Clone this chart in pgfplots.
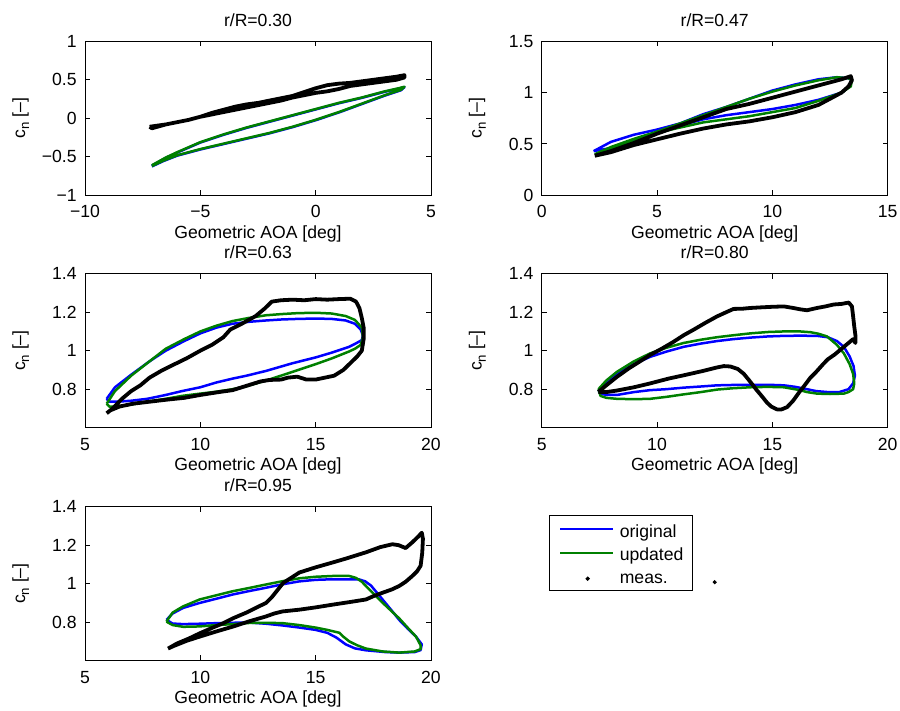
\documentclass[border=0pt]{standalone}
\usepackage{fontspec}
\setmainfont{Liberation Sans}
\usepackage{pgfplots}
\pgfplotsset{compat=1.18}
\definecolor{mblue}{rgb}{0,0,1}
\definecolor{mgreen}{rgb}{0,0.5,0}
\pgfplotsset{
  cstyle/.style={
    scale only axis, width=173pt, height=77pt, anchor=south west,
    axis line style={line width=0.5pt},
    tick align=inside, major tick length=2.6pt,
    every tick/.style={black, line width=0.5pt},
    xtick pos=both, ytick pos=both,
    xticklabel style={inner sep=0pt, anchor=north, yshift=-5pt},
    yticklabel style={inner sep=0pt, anchor=east, xshift=-4pt},
    every axis title shift=0pt,
    title style={at={(axis description cs:0.5,1.097)}, anchor=base, inner sep=0pt},
    xlabel style={at={(axis description cs:0.5,-0.195)}, anchor=north, inner sep=0pt},
    ylabel style={at={(axis description cs:-0.1734,0.5)}, anchor=base, inner sep=0pt},
    xlabel={Geometric AOA [deg]},
    ylabel={c\raisebox{-0.45ex}{\fontsize{6.6}{7}\selectfont n} [–]},
  },
  orig/.style={mblue, line width=1.25pt, line join=round},
  upd/.style={mgreen, line width=1.25pt, line join=round},
  meas/.style={black, line width=1.9pt, line join=round},
  lowstyle/.style={xmin=5, xmax=20, ymin=0.6, ymax=1.4,
    xtick={5,10,15,20}, xticklabels={5,10,15,20},
    ytick={0.8,1,1.2,1.4}, yticklabels={0.8,1,1.2,1.4}},
}
\begin{document}
\fontsize{8.8}{10.5}\selectfont
\begin{tikzpicture}
\useasboundingbox (0,0) rectangle (450pt,355.5pt);

% ---------- r/R = 0.30 ----------
\begin{axis}[cstyle, at={(42.5pt,257.85pt)}, title={r/R=0.30},
  xmin=-10, xmax=5, ymin=-1, ymax=1,
  xtick={-10,-5,0,5}, xticklabels={−10,−5,0,5},
  ytick={-1,-0.5,0,0.5,1}, yticklabels={−1,−0.5,0,0.5,1}]
\addplot[orig] coordinates {(-7.1,-0.615) (-6.8,-0.565) (-6.5,-0.515) (-6,-0.445) (-5,-0.315) (-4,-0.215) (-3,-0.125) (-2,-0.045) (-1,0.035) (0,0.115) (1,0.195) (2,0.265) (3,0.345) (3.6,0.385) (3.85,0.405) (3.7,0.365) (3,0.295) (2,0.185) (1,0.075) (0,-0.025) (-1,-0.115) (-2,-0.195) (-3,-0.265) (-4,-0.335) (-5,-0.405) (-6,-0.485) (-6.6,-0.555) (-7.1,-0.625)};
\addplot[upd] coordinates {(-7.1,-0.61) (-6.8,-0.56) (-6.5,-0.51) (-6,-0.44) (-5,-0.31) (-4,-0.21) (-3,-0.12) (-2,-0.04) (-1,0.04) (0,0.12) (1,0.20) (2,0.27) (3,0.35) (3.6,0.39) (3.85,0.41) (3.7,0.37) (3,0.30) (2,0.19) (1,0.08) (0,-0.02) (-1,-0.11) (-2,-0.19) (-3,-0.26) (-4,-0.33) (-5,-0.40) (-6,-0.48) (-6.6,-0.55) (-7.1,-0.62)};
\addplot[meas] coordinates {(-7.2,-0.11) (-6.5,-0.08) (-6,-0.05) (-5.5,-0.02) (-5,0.02) (-4.5,0.07) (-4,0.11) (-3.5,0.15) (-3,0.18) (-2.5,0.20) (-2,0.23) (-1.5,0.26) (-1,0.29) (-0.5,0.34) (0,0.39) (0.5,0.43) (1,0.45) (1.5,0.46) (2,0.48) (2.5,0.50) (3,0.52) (3.5,0.54) (3.85,0.56) (3.85,0.53) (3.5,0.50) (3,0.48) (2.5,0.46) (2,0.44) (1.5,0.42) (1,0.38) (0.5,0.35) (0,0.33) (-0.5,0.30) (-1,0.27) (-1.5,0.23) (-2,0.20) (-2.5,0.17) (-3,0.14) (-3.5,0.11) (-4,0.08) (-4.5,0.05) (-5,0.02) (-5.5,-0.02) (-6,-0.05) (-6.5,-0.08) (-7.1,-0.13) (-7.2,-0.11)};
\end{axis}

% ---------- r/R = 0.47 ----------
\begin{axis}[cstyle, at={(270.85pt,257.85pt)}, title={r/R=0.47},
  xmin=0, xmax=15, ymin=0, ymax=1.5,
  xtick={0,5,10,15}, xticklabels={0,5,10,15},
  ytick={0,0.5,1,1.5}, yticklabels={0,0.5,1,1.5}]
\addplot[orig] coordinates {(2.25,0.43) (3,0.52) (4,0.59) (5,0.64) (6,0.70) (7,0.79) (8,0.86) (9,0.94) (10,1.02) (11,1.08) (12,1.13) (12.8,1.15) (13.3,1.14) (13.45,1.12) (13.3,1.05) (13,1.00) (12,0.93) (11,0.88) (10,0.84) (9,0.81) (8,0.78) (7,0.74) (6,0.68) (5,0.60) (4,0.53) (3,0.46) (2.25,0.43)};
\addplot[upd] coordinates {(2.3,0.40) (3,0.47) (4,0.55) (5,0.62) (6,0.70) (7,0.78) (8,0.86) (9,0.94) (10,1.01) (11,1.07) (12,1.12) (12.8,1.15) (13.3,1.14) (13.45,1.12) (13.4,1.06) (13,1.00) (12,0.92) (11,0.85) (10,0.81) (9,0.77) (8,0.74) (7,0.71) (6,0.66) (5,0.61) (4,0.52) (3,0.45) (2.3,0.40)};
\addplot[meas] coordinates {(2.3,0.385) (3,0.43) (4,0.51) (5,0.60) (6,0.68) (7,0.76) (7.5,0.80) (8,0.84) (9,0.89) (10,0.95) (11,1.01) (12,1.07) (13,1.13) (13.4,1.16) (13.45,1.12) (13.3,1.06) (13,1.00) (12,0.88) (11,0.81) (10,0.76) (9,0.72) (8,0.69) (7,0.65) (6,0.60) (5,0.545) (4,0.49) (3,0.42) (2.3,0.385)};
\end{axis}

% ---------- r/R = 0.63 ----------
\begin{axis}[cstyle, lowstyle, at={(42.5pt,141.65pt)}, title={r/R=0.63}]
\addplot[orig] coordinates {(5.94,0.75) (6.3,0.81) (7.0,0.875) (7.8,0.945) (8.5,1.0) (9.3,1.05) (10.0,1.09) (10.7,1.12) (11.4,1.14) (12.1,1.15) (12.85,1.157) (13.5,1.162) (14.2,1.165) (15.0,1.167) (15.7,1.165) (16.3,1.157) (16.7,1.14) (16.95,1.11) (17.05,1.08) (17.0,1.055) (16.7,1.035) (16.45,1.02) (15.7,0.99) (15.0,0.965) (14.0,0.935) (12.85,0.895) (12.0,0.87) (11.4,0.855) (10.7,0.835) (10.0,0.81) (9.2,0.79) (8.5,0.77) (7.7,0.75) (7.0,0.74) (6.4,0.735) (6.05,0.735) (5.94,0.75)};
\addplot[upd] coordinates {(5.94,0.725) (6.3,0.79) (7.0,0.87) (7.8,0.945) (8.5,1.01) (9.3,1.06) (10.0,1.10) (10.7,1.13) (11.4,1.154) (12.1,1.17) (12.85,1.184) (13.5,1.19) (14.2,1.195) (15.0,1.197) (15.7,1.193) (16.3,1.18) (16.7,1.16) (17.0,1.12) (17.05,1.07) (16.95,1.03) (16.7,1.01) (16.45,0.996) (15.7,0.96) (15.0,0.93) (14.0,0.89) (12.85,0.845) (12.0,0.815) (11.4,0.80) (10.7,0.787) (10.0,0.777) (9.2,0.765) (8.5,0.75) (7.7,0.735) (7.0,0.72) (6.4,0.71) (6.05,0.71) (5.94,0.725)};
\addplot[meas] coordinates {(5.94,0.675) (6.2,0.70) (6.6,0.75) (7.0,0.79) (7.4,0.82) (7.8,0.86) (8.3,0.895) (8.8,0.925) (9.4,0.96) (10.0,1.0) (10.5,1.03) (11.0,1.07) (11.3,1.11) (11.8,1.14) (12.4,1.18) (12.8,1.22) (13.1,1.255) (13.5,1.262) (14.0,1.265) (14.5,1.262) (15.0,1.268) (15.5,1.265) (16.0,1.268) (16.5,1.27) (16.75,1.255) (16.9,1.22) (17.0,1.17) (17.08,1.12) (17.08,1.06) (17.0,1.00) (16.8,0.97) (16.5,0.935) (16.2,0.90) (15.8,0.87) (15.4,0.86) (15.0,0.85) (14.6,0.85) (14.2,0.865) (13.8,0.86) (13.5,0.85) (13.0,0.848) (12.6,0.84) (12.2,0.825) (11.8,0.81) (11.4,0.795) (10.8,0.785) (10.0,0.77) (9.3,0.755) (8.5,0.745) (7.8,0.735) (7.1,0.725) (6.5,0.71) (6.1,0.69) (5.94,0.675)};
\end{axis}

% ---------- r/R = 0.80 ----------
\begin{axis}[cstyle, lowstyle, at={(270.85pt,141.65pt)}, title={r/R=0.80}]
\addplot[orig] coordinates {(7.46,0.79) (7.8,0.84) (8.26,0.88) (9.0,0.93) (9.7,0.968) (10.4,0.995) (11.15,1.02) (11.9,1.037) (12.6,1.05) (13.3,1.06) (14.05,1.068) (14.8,1.074) (15.5,1.077) (16.2,1.078) (16.94,1.077) (17.4,1.07) (17.8,1.05) (18.1,1.02) (18.35,0.97) (18.52,0.92) (18.58,0.87) (18.5,0.83) (18.3,0.80) (17.9,0.785) (17.4,0.785) (16.9,0.79) (16.5,0.80) (16.0,0.812) (15.5,0.82) (14.8,0.823) (14.05,0.822) (13.3,0.822) (12.6,0.82) (11.9,0.814) (11.15,0.808) (10.4,0.80) (9.7,0.795) (9.0,0.785) (8.26,0.77) (7.8,0.77) (7.55,0.778) (7.46,0.79)};
\addplot[upd] coordinates {(7.46,0.80) (7.8,0.845) (8.26,0.89) (9.0,0.945) (9.7,0.986) (10.4,1.015) (11.15,1.04) (11.9,1.057) (12.6,1.07) (13.3,1.08) (14.05,1.09) (14.8,1.097) (15.5,1.10) (16.2,1.10) (16.65,1.096) (17.0,1.088) (17.37,1.074) (17.8,1.03) (18.1,0.986) (18.35,0.93) (18.5,0.88) (18.55,0.83) (18.5,0.80) (18.3,0.785) (18.1,0.777) (17.5,0.775) (16.94,0.777) (16.5,0.785) (16.2,0.795) (15.5,0.81) (14.8,0.812) (14.05,0.81) (13.3,0.805) (12.6,0.798) (11.9,0.785) (11.15,0.773) (10.4,0.76) (9.7,0.75) (9.0,0.748) (8.26,0.75) (7.8,0.755) (7.55,0.765) (7.46,0.80)};
\addplot[meas] coordinates {(7.46,0.786) (7.8,0.82) (8.26,0.864) (8.8,0.91) (9.2,0.94) (9.7,0.978) (10.2,1.01) (10.7,1.045) (11.15,1.08) (11.6,1.11) (12.1,1.145) (12.6,1.178) (13.0,1.20) (13.32,1.217) (13.7,1.218) (14.05,1.222) (14.5,1.225) (15.0,1.228) (15.5,1.23) (15.9,1.222) (16.2,1.215) (16.5,1.21) (16.94,1.222) (17.3,1.23) (17.66,1.24) (18.0,1.243) (18.31,1.25) (18.45,1.23) (18.5,1.18) (18.55,1.126) (18.6,1.08) (18.6,1.04) (18.5,1.06) (18.3,1.04) (18.0,1.01) (17.7,0.98) (17.4,0.955) (17.2,0.93) (16.9,0.89) (16.65,0.86) (16.4,0.82) (16.2,0.79) (15.9,0.74) (15.64,0.707) (15.4,0.695) (15.2,0.695) (14.95,0.71) (14.77,0.73) (14.5,0.77) (14.33,0.794) (14.0,0.845) (13.76,0.88) (13.5,0.905) (13.18,0.918) (12.9,0.92) (12.6,0.913) (12.0,0.895) (11.15,0.872) (10.5,0.855) (9.7,0.83) (9.0,0.81) (8.26,0.793) (7.8,0.785) (7.46,0.786)};
\end{axis}

% ---------- r/R = 0.95 ----------
\begin{axis}[cstyle, lowstyle, at={(42.5pt,25.15pt)}, title={r/R=0.95}]
\addplot[orig] coordinates {(8.53,0.812) (8.8,0.845) (9.25,0.874) (9.97,0.90) (10.7,0.922) (11.41,0.944) (12.13,0.962) (12.85,0.979) (13.57,0.997) (14.29,1.012) (15.0,1.02) (15.73,1.023) (16.3,1.023) (16.89,1.022) (17.15,1.012) (17.4,0.99) (17.9,0.918) (18.3,0.86) (18.62,0.812) (19.0,0.765) (19.35,0.725) (19.6,0.685) (19.55,0.655) (19.3,0.645) (18.62,0.642) (18.0,0.645) (17.18,0.654) (16.7,0.664) (16.3,0.685) (15.9,0.72) (15.5,0.745) (15.0,0.76) (14.3,0.772) (13.57,0.783) (12.85,0.792) (12.13,0.798) (11.41,0.797) (10.7,0.795) (9.97,0.792) (9.25,0.79) (8.8,0.793) (8.53,0.812)};
\addplot[upd] coordinates {(8.53,0.803) (8.8,0.85) (9.25,0.882) (9.97,0.918) (10.7,0.94) (11.41,0.961) (12.13,0.978) (12.85,0.996) (13.57,1.013) (14.29,1.028) (15.0,1.036) (15.73,1.04) (16.46,1.04) (16.75,1.03) (17.0,1.01) (17.47,0.953) (18.0,0.89) (18.62,0.82) (19.0,0.77) (19.35,0.725) (19.55,0.68) (19.55,0.66) (19.3,0.648) (18.62,0.642) (17.9,0.648) (17.18,0.663) (16.8,0.68) (16.46,0.70) (16.2,0.725) (16.03,0.745) (15.5,0.76) (15.0,0.772) (14.29,0.785) (13.57,0.795) (12.85,0.797) (12.13,0.796) (11.41,0.79) (10.7,0.785) (9.97,0.778) (9.25,0.776) (8.8,0.785) (8.53,0.803)};
\addplot[meas] coordinates {(8.6,0.663) (9.0,0.69) (9.5,0.715) (9.97,0.742) (10.5,0.77) (11.0,0.795) (11.41,0.82) (12.0,0.85) (12.5,0.88) (12.85,0.90) (13.1,0.93) (13.4,0.975) (13.6,1.005) (14.0,1.035) (14.29,1.058) (15.0,1.085) (15.73,1.11) (16.3,1.13) (17.18,1.163) (17.8,1.19) (18.33,1.205) (18.6,1.2) (18.9,1.185) (19.19,1.215) (19.45,1.245) (19.6,1.265) (19.65,1.233) (19.62,1.16) (19.55,1.093) (19.4,1.065) (19.19,1.04) (18.9,1.01) (18.62,0.988) (18.3,0.97) (17.9,0.953) (17.5,0.935) (17.18,0.918) (16.5,0.905) (15.73,0.891) (15.0,0.877) (14.29,0.865) (13.57,0.856) (13.2,0.845) (12.85,0.83) (12.13,0.805) (11.41,0.777) (10.7,0.752) (9.97,0.725) (9.4,0.703) (8.82,0.675) (8.6,0.663)};
\end{axis}

% ---------- legend panel ----------
\begin{axis}[scale only axis, width=173pt, height=77pt, anchor=south west,
  at={(270.85pt,25.15pt)}, hide axis, xmin=0, xmax=1, ymin=0, ymax=1,
  legend cell align=left,
  legend style={at={(axis description cs:0.022,0.946)}, anchor=north west,
    draw=black, line width=0.5pt, inner xsep=4.6pt, inner ysep=3.2pt,
    row sep=3.9pt, nodes={inner sep=0pt, text height=7.3pt, text depth=0pt}}]
\addlegendimage{legend image code/.code={\path (0pt,-3.65pt) (29.6pt,3.65pt); \draw[mblue, line width=1.1pt] (0pt,0.2pt) -- (26.6pt,0.2pt);}}
\addlegendimage{legend image code/.code={\path (0pt,-3.65pt) (29.6pt,3.65pt); \draw[mgreen, line width=1.1pt] (0pt,0.2pt) -- (26.6pt,0.2pt);}}
\addlegendimage{legend image code/.code={\path (0pt,-3.65pt) (29.6pt,3.65pt); \fill[black] (13.8pt,-1.1pt) circle (0.8pt);}}
\addplot[only marks, mark=*, mark size=0.8pt, black, forget plot] coordinates {(0.5,0.51)};
\legend{original,updated,meas.}
\end{axis}
\end{tikzpicture}
\end{document}
